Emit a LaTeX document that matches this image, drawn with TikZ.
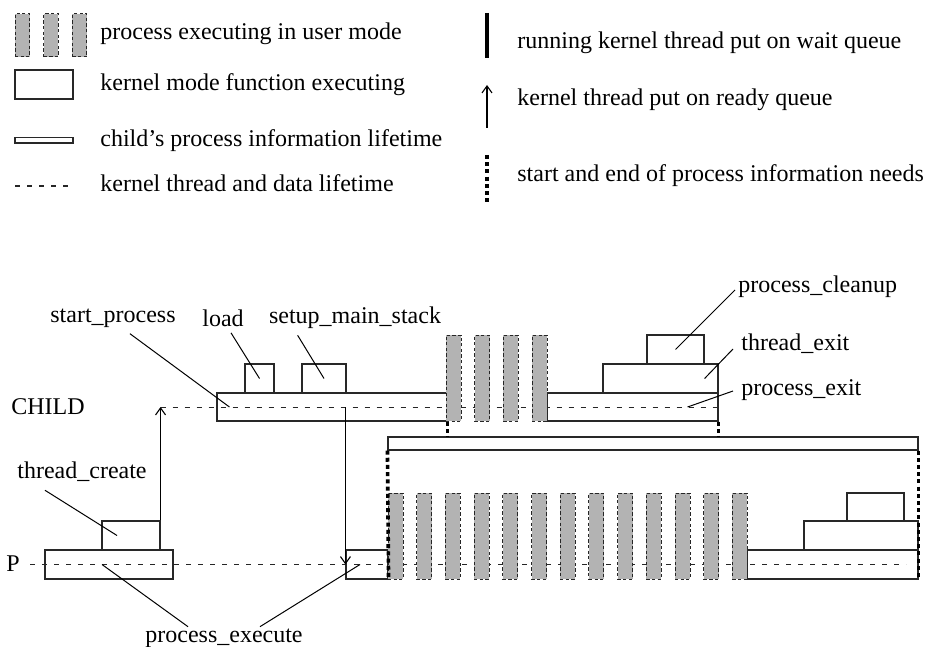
\documentclass[tikz,border=0pt]{standalone}
\usepackage{fontspec}
\setmainfont{Liberation Serif}
\usetikzlibrary{arrows.meta, positioning, fit, calc}
\definecolor{usergray}{RGB}{179,179,179}
\definecolor{linegray}{RGB}{40,40,40}
\tikzset{
  kbox/.style={draw=linegray, fill=white, line width=0.55pt, inner sep=0pt},
  userbar/.style={
    draw=black!85, fill=usergray, line width=0.5pt,
    dash pattern=on 1.6pt off 1.2pt, inner sep=0pt
  },
  lifeline/.style={draw=black!85, line width=0.5pt, dash pattern=on 2.5pt off 3.5pt},
  leader/.style={draw=black, line width=0.5pt},
  readyarrow/.style={draw=black, line width=0.55pt, -{Straight Barb[length=3.5pt,width=5pt]}},
  waitmark/.style={draw=black, line width=2pt},
  infomark/.style={draw=black, line width=1.8pt, dash pattern=on 2pt off 1.6pt},
  lbl/.style={inner sep=0pt, font=\fontsize{12}{14}\selectfont}
}

\begin{document}
\begin{tikzpicture}[x=0.5pt, y=-0.5pt]
  \useasboundingbox (0,0) rectangle (932,647);

  % ── Legend: left column ───────────────────────────────────────────
  \foreach \i in {0,1,2} {
    \pgfmathsetmacro\bx{15+28.7*\i}
    \node[userbar, fit={(\bx,14) (\bx+14.5,57)}] (lbar\i) {};
  }
  \node[kbox, fit={(15,70) (73,99)}] (lkbox) {};
  \node[kbox, fit={(15,137.5) (73,143)}] (linfo) {};
  \coordinate (ldash0) at (15,186);
  \coordinate (ldash1) at (73,186);
  \draw[lifeline] (ldash0) -- (ldash1);

  \node[lbl, anchor=mid west] (tuser)  at (100,35)  {process executing in user mode};
  \node[lbl, anchor=mid west] (tkern)  at (100,86)  {kernel mode function executing};
  \node[lbl, anchor=mid west] (tinfo)  at (100,142) {child's process information lifetime};
  \node[lbl, anchor=mid west] (tdata)  at (100,187) {kernel thread and data lifetime};

  % ── Legend: right column ──────────────────────────────────────────
  \coordinate (lwait0) at (487,13);
  \coordinate (lwait1) at (487,58);
  \draw[waitmark] (lwait0) -- (lwait1);
  \coordinate (lrdy0) at (487,128);
  \coordinate (lrdy1) at (487,85);
  \draw[readyarrow] (lrdy0) -- (lrdy1);
  \coordinate (lneed0) at (487,155);
  \coordinate (lneed1) at (487,203);
  \draw[infomark] (lneed0) -- (lneed1);

  \node[lbl, anchor=mid west] (twait) at (517,44)  {running kernel thread put on wait queue};
  \node[lbl, anchor=mid west] (trdy)  at (517,101) {kernel thread put on ready queue};
  \node[lbl, anchor=mid west] (tneed) at (517,177) {start and end of process information needs};

  % ── CHILD row ─────────────────────────────────────────────────────
  \node[lbl] (lchild) at (48,407) {CHILD};
  \node[kbox, fit={(217,393) (447,421)}] (startproc) {};
  \node[kbox, fit={(245,364) (274,393)}] (load) {};
  \node[kbox, fit={(302,364) (346,393)}] (setupstack) {};
  \node[kbox, fit={(547,393) (718,421)}] (pexit) {};
  \node[kbox, fit={(603,364) (718,393)}] (texit) {};
  \node[kbox, fit={(647,335) (704,364)}] (pclean) {};

  % ── information lifetime ──────────────────────────────────────────
  \node[kbox, fit={(388,437) (918,450)}] (infolife) {};

  % ── P row ─────────────────────────────────────────────────────────
  \node[lbl] (lp) at (13,564) {P};
  \node[kbox, fit={(45,550) (173,579)}] (pexec1) {};
  \node[kbox, fit={(102,521) (160,550)}] (tcreate) {};
  \node[kbox, fit={(346,550) (388,579)}] (pexec2) {};
  \node[kbox, fit={(747,550) (918,579)}] (pfinal) {};
  \node[kbox, fit={(804,521) (918,550)}] (ptexit) {};
  \node[kbox, fit={(847,493) (904,521)}] (pclean2) {};

  % ── kernel thread lifelines ───────────────────────────────────────
  \coordinate (pstart) at (30,564.5);
  \coordinate (pend) at (906,564.5);
  \draw[lifeline] (tcreate.north east |- startproc.west) -- (pexit.east);
  \draw[lifeline] (pstart) -- (pend);

  % ── user mode slices ──────────────────────────────────────────────
  \foreach \i in {0,...,3} {
    \pgfmathsetmacro\bx{446+28.7*\i}
    \node[userbar, fit={(\bx,335) (\bx+15,421)}] (cbar\i) {};
  }
  \foreach \i in {0,...,12} {
    \pgfmathsetmacro\bx{388+28.7*\i}
    \node[userbar, fit={(\bx,493) (\bx+15,579)}] (pbar\i) {};
  }

  % ── thread switches ───────────────────────────────────────────────
  \draw[readyarrow] (tcreate.north east) -- (tcreate.north east |- startproc.west);
  \draw[readyarrow] (startproc.center -| pexec2.west) -- (pexec2.west);

  \draw[infomark] (startproc.south east) -- (startproc.south east |- infolife.north);
  \draw[infomark] (pexit.south east) -- (pexit.south east |- infolife.north);
  \draw[infomark] (infolife.south west) -- (pexec2.south east);
  \draw[infomark] (infolife.south east) -- (pfinal.south east);

  % ── function labels ───────────────────────────────────────────────
  \node[lbl] (lstart) at (113,318) {start\_process};
  \node[lbl] (lload)  at (223,318) {load};
  \node[lbl] (lsetup) at (355,318) {setup\_main\_stack};
  \node[lbl, anchor=mid west] (lclean) at (738,288) {process\_cleanup};
  \node[lbl, anchor=mid west] (ltexit) at (741,346) {thread\_exit};
  \node[lbl, anchor=mid west] (lpexit) at (741,391) {process\_exit};
  \node[lbl] (ltcreate) at (82,472) {thread\_create};
  \node[lbl, anchor=mid] (lpexec) at (224,638) {process\_execute};

  \draw[leader] ($(lstart.south west)+(80,6)$) -- ($(startproc.west)+(13,0)$);
  \draw[leader] ($(lload.south)+(8,6)$) -- (load.center);
  \draw[leader] ($(lsetup.south west)+(29,6)$) -- (setupstack.center);
  \draw[leader] ($(lclean.mid west)+(-3,2)$) -- (pclean.center);
  \draw[leader] ($(ltexit.mid west)+(-8,3)$) -- ($(texit.south east)+(-14,-15)$);
  \draw[leader] ($(lpexit.mid west)+(-8,0)$) -- ($(pexit.east)+(-31,0)$);
  \draw[leader] ($(ltcreate.south west)+(28,8)$) -- ($(tcreate.center)+(-14,0)$);
  \draw[leader] ($(lpexec.north)+(-36,-2)$) -- ($(pexec1.center)+(-7,0)$);
  \draw[leader] ($(lpexec.north)+(36,-2)$) -- ($(pexec2.center)+(-7,0)$);
\end{tikzpicture}
\end{document}
